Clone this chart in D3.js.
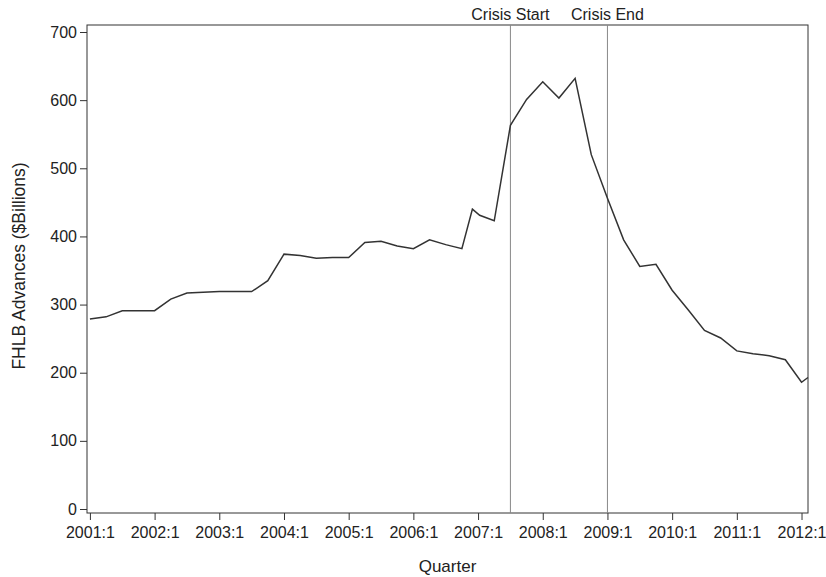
<!DOCTYPE html>
<html lang="en">
<head>
<meta charset="UTF-8">
<title>FHLB Advances</title>
<script src="https://d3js.org/d3.v7.min.js"></script>
<style>
 body {margin: 0; padding: 0; background: #fff;}
 svg {display: block;}
 text {font-family: "Liberation Sans", Arial, sans-serif; fill: #222;}
 .tick text {font-size: 16px;}
 .axis-title {font-size: 17px;}
 .crisis-label {font-size: 16px;}
</style>
</head>
<body>
<svg id="chart" width="826" height="577"></svg>
<script>
// quarter position, counted from 2001:1 (0 = 2001:1, 4 = 2002:1, ...)
const quarterIdx = [0, 1, 2, 3, 4, 5, 6, 7, 8, 9, 10, 11, 12, 13, 14, 15, 16, 17, 18, 19, 20, 21, 22, 23,
  23.65, 24.1, 25, 26, 27, 28, 29, 30, 31, 32, 33, 34, 35, 36, 37, 38, 39, 40, 41, 42, 43, 44, 44.4];
const advances = [279, 282, 291, 291, 291, 308, 317, 318, 319, 319, 319, 335, 374, 372, 368, 369, 369, 391,
  393, 386, 382, 395, 388, 382, 440, 431, 423, 563, 601, 627, 603, 632, 520, 456, 395, 356, 359, 321,
  292, 262, 251, 232, 228, 225, 219, 186, 193];

const tickQuarters = [0, 4, 8, 12, 16, 20, 24, 28, 32, 36, 40, 44];
const tickLabels = ['2001:1', '2002:1', '2003:1', '2004:1', '2005:1', '2006:1', '2007:1',
  '2008:1', '2009:1', '2010:1', '2011:1', '2012:1'];
const yTicks = [0, 100, 200, 300, 400, 500, 600, 700];

const crisisQuarters = [26, 32];
const crisisNames = ['Crisis Start', 'Crisis End'];

const svg = d3.select('#chart');
const frame = {left: 87, right: 808, top: 25, bottom: 513};

const x = d3.scaleLinear().domain([-0.18, 44.4]).range([frame.left, frame.right]);
const y = d3.scaleLinear().domain([0, 700]).range([509, 32]);

// frame
svg.append('rect')
  .attr('x', frame.left).attr('y', frame.top)
  .attr('width', frame.right - frame.left).attr('height', frame.bottom - frame.top)
  .attr('fill', 'none').attr('stroke', '#333').attr('stroke-width', 1);

// axes
const xAxis = svg.append('g')
  .attr('transform', `translate(0,${frame.bottom})`)
  .call(d3.axisBottom(x).tickValues(tickQuarters)
    .tickFormat((d, i) => tickLabels[i]).tickSize(7).tickPadding(7));
xAxis.select('.domain').remove();
xAxis.selectAll('line').attr('stroke', '#333');

const yAxis = svg.append('g')
  .attr('transform', `translate(${frame.left},0)`)
  .call(d3.axisLeft(y).tickValues(yTicks).tickSize(7).tickPadding(3));
yAxis.select('.domain').remove();
yAxis.selectAll('line').attr('stroke', '#333');

// crisis lines
crisisQuarters.forEach((q, i) => {
  svg.append('line')
    .attr('x1', x(q)).attr('x2', x(q))
    .attr('y1', frame.top).attr('y2', frame.bottom)
    .attr('stroke', '#888').attr('stroke-width', 1);
  svg.append('text')
    .attr('class', 'crisis-label')
    .attr('x', x(q)).attr('y', 20)
    .attr('text-anchor', 'middle')
    .text(crisisNames[i]);
});

// data line
const line = d3.line()
  .x((d, i) => x(quarterIdx[i]))
  .y(d => y(d));
svg.append('path')
  .datum(advances)
  .attr('d', line)
  .attr('fill', 'none')
  .attr('stroke', '#333')
  .attr('stroke-width', 1.5)
  .attr('stroke-linejoin', 'miter');

// titles
svg.append('text')
  .attr('class', 'axis-title')
  .attr('x', (frame.left + frame.right) / 2).attr('y', 572)
  .attr('text-anchor', 'middle')
  .text('Quarter');

svg.append('text')
  .attr('class', 'axis-title')
  .style('font-size', '17.5px')
  .attr('transform', `translate(25,266) rotate(-90)`)
  .attr('text-anchor', 'middle')
  .text('FHLB Advances ($Billions)');
</script>
</body>
</html>
